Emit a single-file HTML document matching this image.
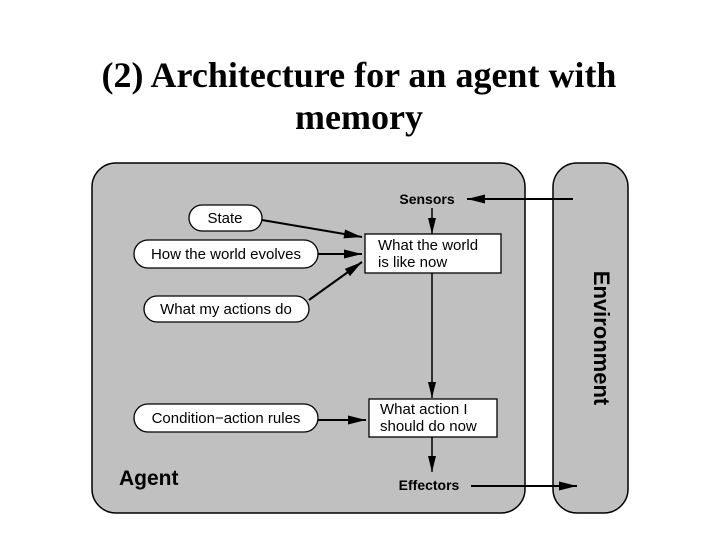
<!DOCTYPE html>
<html><head><style>body{margin:0;background:#fff}</style></head><body>
<svg width="720" height="540" xmlns="http://www.w3.org/2000/svg">
<defs><marker id="a" viewBox="0 0 10 20" refX="10" refY="10" markerWidth="10" markerHeight="18" orient="auto" markerUnits="userSpaceOnUse"><path d="M0,0L10,10L0,20z" fill="#000" transform="rotate(0)"/></marker>
<marker id="b" viewBox="0 0 20 10" refX="20" refY="5" markerWidth="20" markerHeight="9" orient="auto" markerUnits="userSpaceOnUse"><path d="M0,0L20,5L0,10z" fill="#000"/></marker>
<marker id="c" viewBox="0 0 20 10" refX="20" refY="5" markerWidth="16" markerHeight="10" orient="auto" markerUnits="userSpaceOnUse"><path d="M0,0L20,5L0,10z" fill="#000"/></marker></defs>
<text x="359" y="87" font-family="Liberation Serif" font-weight="bold" font-size="36" text-anchor="middle">(2) Architecture for an agent with</text>
<text x="359" y="129" font-family="Liberation Serif" font-weight="bold" font-size="36" text-anchor="middle">memory</text>
<rect x="92" y="163" width="433" height="350" rx="24" fill="#c0c0c0" stroke="#000" stroke-width="1.5"/>
<rect x="553" y="163" width="75" height="350" rx="24" fill="#c0c0c0" stroke="#000" stroke-width="1.5"/>
<g font-family="Liberation Sans" font-size="15" stroke="#000" stroke-width="1.3">
<rect x="189" y="205" width="73" height="26" rx="13" fill="#fff"/>
<rect x="134" y="240" width="184" height="28" rx="14" fill="#fff"/>
<rect x="144" y="296" width="165" height="26" rx="13" fill="#fff"/>
<rect x="134" y="404" width="184" height="28" rx="14" fill="#fff"/>
<rect x="365" y="234" width="136" height="39" fill="#fff"/>
<rect x="369" y="399" width="128" height="38" fill="#fff"/>
</g>
<g font-family="Liberation Sans" font-size="15" fill="#000">
<text x="225" y="223" text-anchor="middle">State</text>
<text x="226" y="259" text-anchor="middle">How the world evolves</text>
<text x="226" y="314" text-anchor="middle">What my actions do</text>
<text x="226" y="423" text-anchor="middle">Condition−action rules</text>
<text x="378" y="250">What the world</text>
<text x="378" y="267">is like now</text>
<text x="380" y="414">What action I</text>
<text x="380" y="431">should do now</text>
<text x="427" y="204" text-anchor="middle" font-weight="bold" font-size="14">Sensors</text>
<text x="429" y="490" text-anchor="middle" font-weight="bold" font-size="14">Effectors</text>
<text x="119" y="485" font-weight="bold" font-size="21">Agent</text>
<text transform="translate(594,338) rotate(90)" text-anchor="middle" font-weight="bold" font-size="22">Environment</text>
</g>
<g stroke="#000" stroke-width="2" fill="none">
<line x1="262" y1="220" x2="362" y2="237" marker-end="url(#b)"/>
<line x1="318" y1="254" x2="362" y2="254" marker-end="url(#b)"/>
<line x1="309" y1="300" x2="362" y2="262" marker-end="url(#b)"/>
<line x1="318" y1="420" x2="366" y2="420" marker-end="url(#b)"/>
<line x1="573" y1="199" x2="467" y2="199" marker-end="url(#b)"/>
<line x1="471" y1="486" x2="577" y2="486" marker-end="url(#b)"/>
<line x1="432" y1="208" x2="432" y2="234" stroke-width="1.5" marker-end="url(#c)"/>
<line x1="432" y1="273" x2="432" y2="398" stroke-width="1.5" marker-end="url(#c)"/>
<line x1="432" y1="437" x2="432" y2="472" stroke-width="1.5" marker-end="url(#c)"/>
</g>
</svg>
</body></html>
